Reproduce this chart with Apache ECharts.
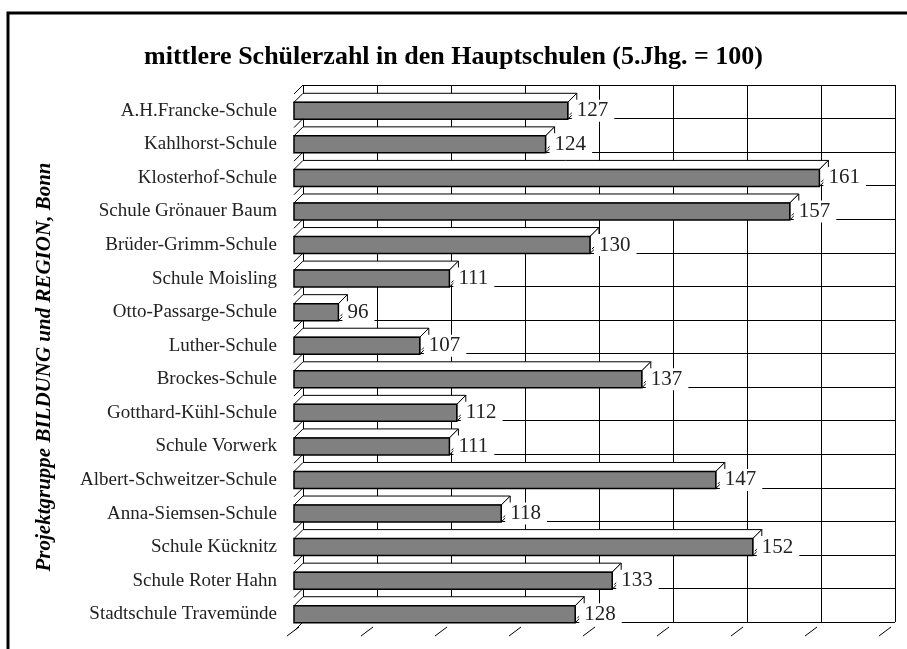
<!DOCTYPE html>
<html>
<head>
<meta charset="utf-8">
<script src="https://cdn.jsdelivr.net/npm/echarts@6/dist/echarts.min.js"></script>
<style>
  html, body { margin: 0; padding: 0; background: #fff; }
  #chart { width: 907px; height: 649px; }
</style>
</head>
<body>
<div id="chart"></div>
<script>
// data
var schools = ['A.H.Francke-Schule', 'Kahlhorst-Schule', 'Klosterhof-Schule', 'Schule Grönauer Baum',
  'Brüder-Grimm-Schule', 'Schule Moisling', 'Otto-Passarge-Schule', 'Luther-Schule', 'Brockes-Schule',
  'Gotthard-Kühl-Schule', 'Schule Vorwerk', 'Albert-Schweitzer-Schule', 'Anna-Siemsen-Schule',
  'Schule Kücknitz', 'Schule Roter Hahn', 'Stadtschule Travemünde'];
var pupils = [127, 124, 161, 157, 130, 111, 96, 107, 137, 112, 111, 147, 118, 152, 133, 128];
var tickValues = [90, 100, 110, 120, 130, 140, 150, 160, 170];

var xMin = 90, xMax = 170;
var depth = 9;     // 3d offset of the back wall
var barH = 17;
var serif = "'Liberation Serif', 'Times New Roman', serif";

var chart = echarts.init(document.getElementById('chart'));

// 3d bar: front face, top face, right face, label
function renderBar(params, api) {
  var idx = api.value(1);
  var end = api.coord([api.value(0), idx]);
  var start = api.coord([xMin, idx]);
  var band = api.size([0, 1])[1];
  var top = end[1] - barH / 2;
  var x0 = start[0], x1 = end[0], d = depth;
  var children = [
    // left edge mark of band boundary
    {type: 'line', shape: {x1: x0, y1: end[1] - band / 2, x2: x0 + d, y2: end[1] - band / 2 - d},
      style: {stroke: '#000', lineWidth: 1}},
    {type: 'polygon', shape: {points: [[x0, top], [x1, top], [x1 + d, top - d], [x0 + d, top - d]]},
      style: {fill: '#fff', stroke: '#000', lineWidth: 1}},
    {type: 'polygon', shape: {points: [[x1, top], [x1 + d, top - d], [x1 + d, top - d + barH], [x1, top + barH]]},
      style: {fill: '#fff', stroke: '#000', lineWidth: 1}},
    {type: 'rect', shape: {x: x0, y: top, width: x1 - x0, height: barH},
      style: {fill: '#808080', stroke: '#000', lineWidth: 1.5}},
    {type: 'line', shape: {x1: x1 + 2, y1: end[1] + 4, x2: x1 + 6, y2: end[1]},
      style: {stroke: '#000', lineWidth: 1}},
    {type: 'text', z2: 10, style: {
      text: String(api.value(0)), x: x1 + 4, y: end[1], verticalAlign: 'middle', align: 'left',
      font: '21px ' + serif, fill: '#222', backgroundColor: '#fff', padding: [1, 6, 0, 5]}}
  ];
  if (params.dataIndex === schools.length - 1) {
    children.push({type: 'line', shape: {x1: x0, y1: end[1] + band / 2, x2: x0 + d, y2: end[1] + band / 2 - d},
      style: {stroke: '#000', lineWidth: 1}});
  }
  return {type: 'group', children: children};
}

// diagonal tick marks below the floor
function renderTick(params, api) {
  var cs = params.coordSys;
  var x = api.coord([api.value(0), 0])[0];
  var yb = cs.y + cs.height;
  return {type: 'line', shape: {x1: x + 5, y1: yb - 4, x2: x - 7, y2: yb + 5},
    style: {stroke: '#000', lineWidth: 1}};
}

var option = {
  animation: false,
  backgroundColor: '#fff',
  title: {
    text: 'mittlere Schülerzahl in den Hauptschulen (5.Jhg. = 100)',
    left: 'center', top: 39,
    textStyle: {fontFamily: serif, fontSize: 26, fontWeight: 'bold', color: '#000'}
  },
  graphic: [
    {type: 'rect', shape: {x: 8, y: 13, width: 910, height: 650},
      style: {fill: 'none', stroke: '#000', lineWidth: 3}},
    {type: 'text', x: 45, y: 367, rotation: Math.PI / 2,
      style: {text: 'Projektgruppe BILDUNG und REGION, Bonn', align: 'center', verticalAlign: 'middle',
        font: 'italic bold 21px ' + serif, fill: '#000'}}
  ],
  grid: [
    // back wall
    {left: 303, right: 12, top: 85, bottom: 27},
    // front plane
    {left: 294, right: 21, top: 94, bottom: 18}
  ],
  xAxis: [
    {gridIndex: 0, type: 'value', min: xMin, max: xMax, interval: 10,
      axisLine: {show: false}, axisTick: {show: false}, axisLabel: {show: false},
      splitLine: {show: true, lineStyle: {color: '#000', width: 1}}},
    {gridIndex: 1, type: 'value', min: xMin, max: xMax, interval: 10,
      axisLine: {show: false}, axisTick: {show: false}, axisLabel: {show: false},
      splitLine: {show: false}}
  ],
  yAxis: [
    {gridIndex: 0, type: 'category', data: schools, inverse: true,
      axisLine: {show: false}, axisTick: {show: false}, axisLabel: {show: false},
      splitLine: {show: true, interval: 0, lineStyle: {color: '#000', width: 1}}},
    {gridIndex: 1, type: 'category', data: schools, inverse: true,
      axisLine: {show: false}, axisTick: {show: false},
      axisLabel: {margin: 17, fontFamily: serif, fontSize: 19, color: '#222'},
      splitLine: {show: false}}
  ],
  series: [
    {
      type: 'custom', name: 'Schülerzahl', xAxisIndex: 1, yAxisIndex: 1,
      renderItem: renderBar,
      encode: {x: 0, y: 1},
      data: pupils.map(function (v, i) { return [v, i]; }),
      z: 5
    },
    {
      type: 'custom', name: 'ticks', xAxisIndex: 1, yAxisIndex: 1,
      renderItem: renderTick,
      encode: {x: 0},
      data: tickValues.map(function (v) { return [v, 0]; }),
      z: 4
    }
  ]
};

chart.setOption(option);
</script>
</body>
</html>
